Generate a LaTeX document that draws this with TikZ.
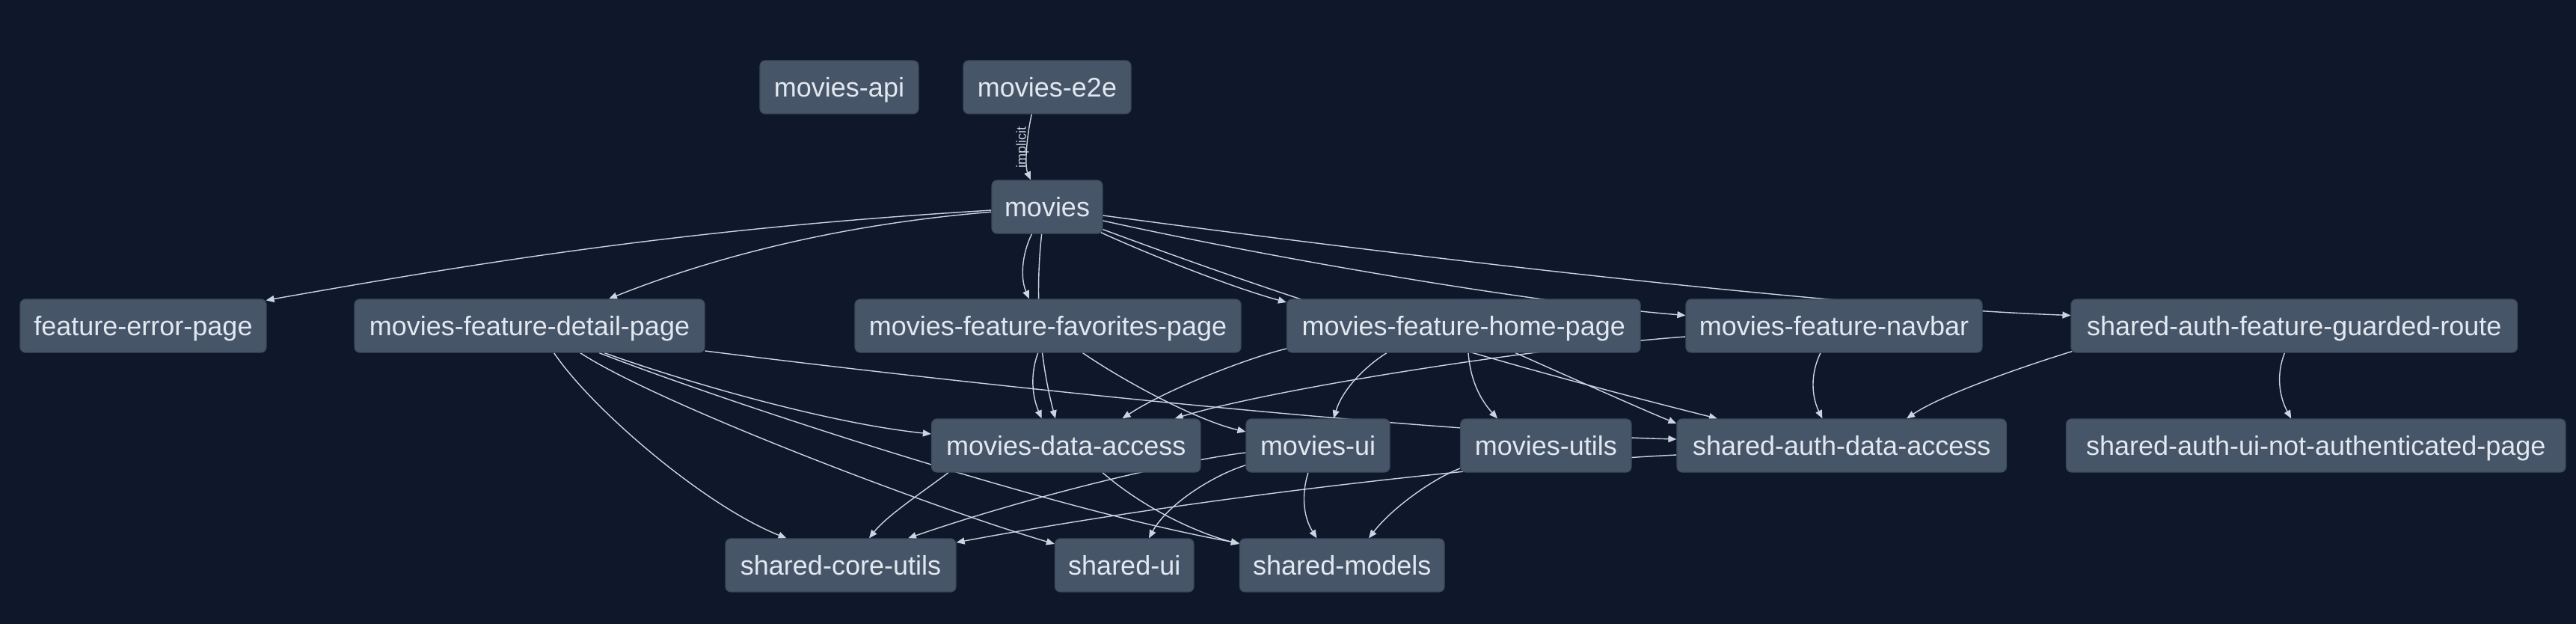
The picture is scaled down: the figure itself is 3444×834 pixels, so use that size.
\documentclass[tikz,border=0pt]{standalone}
\usepackage{fontspec}
\setmainfont{Liberation Sans}
\usetikzlibrary{arrows.meta,calc}
\definecolor{bgc}{HTML}{0F172A}
\definecolor{nodefill}{HTML}{475569}
\definecolor{nodeline}{HTML}{3B4A5E}
\definecolor{nodetext}{HTML}{E2E8F0}
\definecolor{edgec}{HTML}{CBD5E1}
\pgfdeclarelayer{bglayer}
\pgfdeclarelayer{edgelayer}
\pgfsetlayers{bglayer,edgelayer,main}
\begin{document}
\begin{tikzpicture}[x=1pt,y=-1pt,
  box/.style={draw=nodeline, line width=1.2pt, fill=nodefill, rounded corners=7pt,
    minimum height=71pt, inner sep=0pt, text=nodetext, text height=26pt, text depth=0pt,
    font=\fontsize{36}{40}\selectfont},
  dep/.style={draw=edgec, line width=1.4pt, -{Triangle[length=11pt,width=9pt]}},
  lbl/.style={text=edgec, font=\fontsize{18}{20}\selectfont, inner sep=0pt}]
\useasboundingbox (0,0) rectangle (3444,834);
\begin{pgfonlayer}{bglayer}
\fill[bgc] (0,0) rectangle (3444,834);
\end{pgfonlayer}

% nodes
\node[box, minimum width=212pt] (api) at (1122,116.5) {movies-api};
\node[box, minimum width=224pt] (e2e) at (1400,116.5) {movies-e2e};
\node[box, minimum width=148pt] (movies) at (1400,276.5) {movies};
\node[box, minimum width=329pt] (fep) at (191.5,435.5) {feature-error-page};
\node[box, minimum width=468pt] (detail) at (708,435.5) {movies-feature-detail-page};
\node[box, minimum width=516pt] (fav) at (1401,435.5) {movies-feature-favorites-page};
\node[box, minimum width=472.5pt] (home) at (1956.75,435.5) {movies-feature-home-page};
\node[box, minimum width=396pt] (navbar) at (2452,435.5) {movies-feature-navbar};
\node[box, minimum width=596.5pt] (guard) at (3067.25,435.5) {shared-auth-feature-guarded-route};
\node[box, minimum width=359.5pt] (mda) at (1425.25,595.5) {movies-data-access};
\node[box, minimum width=192pt] (mui) at (1762,595.5) {movies-ui};
\node[box, minimum width=228.3pt] (mutils) at (2066.85,595.5) {movies-utils};
\node[box, minimum width=440.4pt] (sada) at (2462.2,595.5) {shared-auth-data-access};
\node[box, minimum width=667.5pt] (sauinap) at (3096.25,595.5) {shared-auth-ui-not-authenticated-page};
\node[box, minimum width=308pt] (scu) at (1124,755.5) {shared-core-utils};
\node[box, minimum width=185.5pt] (sui) at (1503.25,755.5) {shared-ui};
\node[box, minimum width=273.5pt] (smodels) at (1794.25,755.5) {shared-models};

\begin{pgfonlayer}{edgelayer}
% e2e -> movies (implicit)
\draw[dep] ([xshift=-20.7pt]e2e.south) .. controls (1372,185) and (1370,222) .. ([xshift=-22pt]movies.north)
  node[lbl, pos=0.5, xshift=-6pt, yshift=5pt, rotate=90] (implicitlbl) {implicit};
% movies -> ...
\draw[dep] ([yshift=-4.5pt]movies.west) .. controls (926.5,305) and (655.7,348.3) .. ([xshift=-1pt,yshift=-2pt]fep.north east);
\draw[dep] ([yshift=-6.8pt]movies.west) .. controls (1120,300) and (950,345) .. ([xshift=106pt]detail.north);
\draw[dep] ([xshift=-20.5pt]movies.south) .. controls (1366,340) and (1364,372) .. ([xshift=-25pt]fav.north);
\draw[dep] ([xshift=-7.3pt]movies.south) .. controls (1383.7,392.7) and (1389.4,478) .. ([xshift=-14.25pt]mda.north);
\draw[dep] ([xshift=-3pt,yshift=2pt]movies.south east) .. controls (1540,342) and (1650,385) .. ([yshift=31.5pt]home.west);
\draw[dep] ([yshift=-30.2pt]movies.east) .. controls (1774,417.7) and (1996,484) .. ([xshift=-166.2pt]sada.north);
\draw[dep] ([yshift=-18.5pt]movies.east) .. controls (1700,345) and (2050,405) .. ([yshift=14pt]navbar.west);
\draw[dep] ([yshift=-11.5pt]movies.east) .. controls (1900,345) and (2450,410) .. ([yshift=14pt]guard.west);
% detail -> ...
\draw[dep] ([xshift=32.6pt]detail.south) .. controls (790,545) and (940,675) .. ([xshift=-72.4pt]scu.north);
\draw[dep] ([xshift=67.7pt]detail.south) .. controls (880,540) and (1250,680) .. ([yshift=28.5pt]sui.west);
\draw[dep] ([xshift=100pt]detail.south) .. controls (900,505) and (1100,565) .. ([yshift=15.5pt]mda.west);
\draw[dep] ([xshift=93pt]detail.south) .. controls (950,530) and (1400,680) .. ([yshift=29.5pt]smodels.west);
\draw[dep] ([yshift=-33.5pt]detail.east) .. controls (1300,514) and (1900,578) .. ([yshift=8.5pt]sada.west);
% fav -> ...
\draw[dep] ([xshift=-13.2pt]fav.south) .. controls (1377,500) and (1380,530) .. ([xshift=-32.5pt]mda.north);
\draw[dep] ([xshift=46.5pt]fav.south) .. controls (1500,508) and (1600,562) .. ([yshift=18.5pt]mui.west);
% home -> ...
\draw[dep] ([yshift=-30.5pt]home.west) .. controls (1670,478) and (1560,520) .. ([xshift=75.25pt]mda.north);
\draw[dep] ([xshift=-102.75pt]home.south) .. controls (1825,490) and (1795,520) .. ([xshift=21pt]mui.north);
\draw[dep] ([xshift=6.25pt]home.south) .. controls (1966,510) and (1980,535) .. ([xshift=-64.85pt]mutils.north);
\draw[dep] ([xshift=69.25pt]home.south) .. controls (2090,500) and (2190,545) .. ([yshift=29.5pt]sada.west);
% navbar -> ...
\draw[dep] ([yshift=-14.5pt]navbar.west) .. controls (2050,465) and (1700,520) .. ([xshift=145.35pt]mda.north);
\draw[dep] ([xshift=-18pt]navbar.south) .. controls (2420,500) and (2422,530) .. ([xshift=-25.8pt]sada.north);
% guard -> ...
\draw[dep] ([xshift=2pt,yshift=2pt]guard.south west) .. controls (2720,485) and (2600,525) .. ([xshift=86.8pt]sada.north);
\draw[dep] ([xshift=-12.75pt]guard.south) .. controls (3043,500) and (3047,530) .. ([xshift=-33pt]sauinap.north);
% mda -> ...
\draw[dep] ([xshift=-157.25pt]mda.south) .. controls (1230,660) and (1185,690) .. ([xshift=38pt]scu.north);
\draw[dep] ([xshift=48.75pt]mda.south) .. controls (1530,680) and (1600,712) .. ([yshift=28.5pt]smodels.west);
% mui -> ...
\draw[dep] ([yshift=-9.5pt]mui.west) .. controls (1580,615) and (1380,662) .. ([xshift=90pt]scu.north);
\draw[dep] ([yshift=-26.2pt]mui.west) .. controls (1620,636) and (1560,675) .. ([xshift=32.75pt]sui.north);
\draw[dep] ([xshift=-13pt]mui.south) .. controls (1740,660) and (1742,690) .. ([xshift=-33.75pt]smodels.north);
% mutils -> smodels
\draw[dep] ([yshift=-30.5pt]mutils.west) .. controls (1915,640) and (1860,680) .. ([xshift=35.75pt]smodels.north);
% sada -> scu
\draw[dep] ([yshift=-12.5pt]sada.west) .. controls (2000,620) and (1600,665) .. ([yshift=30.5pt]scu.east);
\end{pgfonlayer}
\end{tikzpicture}
\end{document}
